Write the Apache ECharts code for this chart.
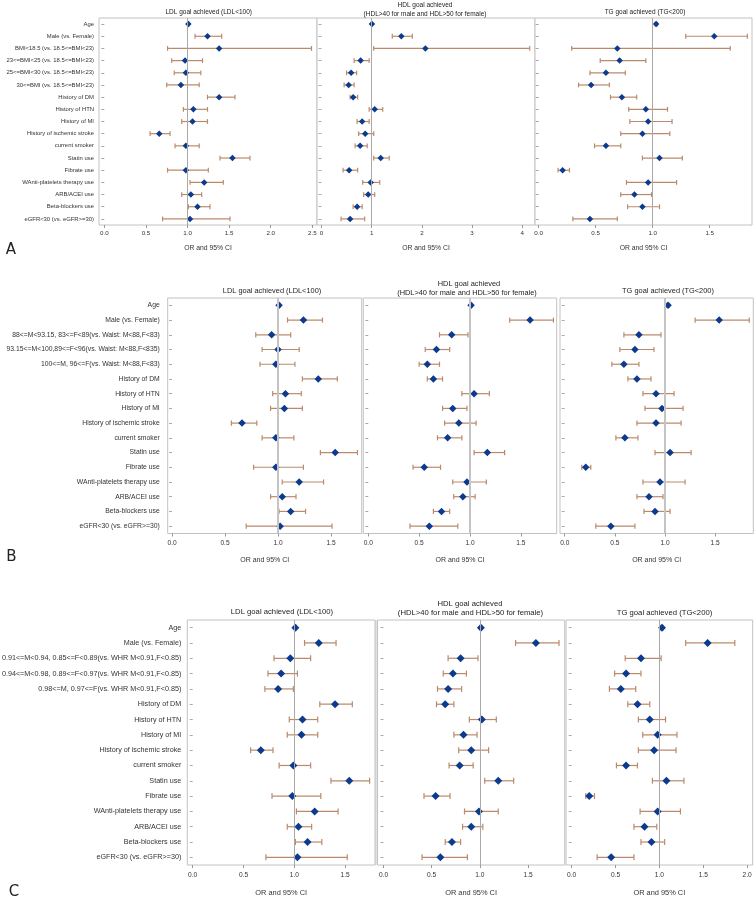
<!DOCTYPE html>
<html><head><meta charset="utf-8">
<script src="https://cdn.jsdelivr.net/npm/echarts@6/dist/echarts.min.js"></script>
<style>html,body{margin:0;padding:0;background:#fff}#c{width:756px;height:899px}</style>
</head><body><div id="c"></div><script>
// ---------- categories ----------
const catsA = ["Age","Male (vs. Female)","BMI<18.5 (vs. 18.5<=BMI<23)","23<=BMI<25 (vs. 18.5<=BMI<23)","25<=BMI<30 (vs. 18.5<=BMI<23)","30<=BMI (vs. 18.5<=BMI<23)","History of DM","History of HTN","History of MI","History of ischemic stroke","current smoker","Statin use","Fibrate use","WAnti-platelets therapy use","ARB/ACEI use","Beta-blockers use","eGFR<30 (vs. eGFR>=30)"];
const catsB = ["Age","Male (vs. Female)","88<=M<93.15, 83<=F<89(vs. Waist: M<88,F<83)","93.15<=M<100,89<=F<96(vs. Waist: M<88,F<835)","100<=M, 96<=F(vs. Waist: M<88,F<83)","History of DM","History of HTN","History of MI","History of ischemic stroke","current smoker","Statin use","Fibrate use","WAnti-platelets therapy use","ARB/ACEI use","Beta-blockers use","eGFR<30 (vs. eGFR>=30)"];
const catsC = ["Age","Male (vs. Female)","0.91<=M<0.94, 0.85<=F<0.89(vs. WHR M<0.91,F<0.85)","0.94<=M<0.98, 0.89<=F<0.97(vs. WHR M<0.91,F<0.85)","0.98<=M, 0.97<=F(vs. WHR M<0.91,F<0.85)","History of DM","History of HTN","History of MI","History of ischemic stroke","current smoker","Statin use","Fibrate use","WAnti-platelets therapy use","ARB/ACEI use","Beta-blockers use","eGFR<30 (vs. eGFR>=30)"];

// ---------- Panel A ----------
const A_LDL_or = [1.01,1.24,1.38,0.97,0.98,0.92,1.38,1.07,1.06,0.66,0.98,1.54,0.98,1.20,1.04,1.12,1.03];
const A_LDL_lo = [1.00,1.09,0.76,0.81,0.84,0.75,1.24,0.95,0.93,0.55,0.85,1.39,0.76,1.03,0.93,1.01,0.70];
const A_LDL_hi = [1.02,1.41,2.49,1.18,1.16,1.14,1.57,1.24,1.24,0.79,1.14,1.75,1.25,1.43,1.17,1.27,1.51];
const A_HDL_or = [1.005,1.59,2.07,0.78,0.59,0.54,0.63,1.06,0.81,0.87,0.77,1.18,0.55,0.98,0.93,0.71,0.57];
const A_HDL_lo = [0.995,1.41,1.04,0.65,0.50,0.45,0.57,0.95,0.71,0.74,0.67,1.04,0.43,0.82,0.84,0.63,0.39];
const A_HDL_hi = [1.015,1.81,4.15,0.95,0.70,0.65,0.72,1.22,0.95,1.04,0.91,1.35,0.72,1.16,1.06,0.81,0.86];
const A_TG_or  = [1.03,1.54,0.69,0.71,0.59,0.46,0.73,0.94,0.96,0.91,0.59,1.06,0.21,0.96,0.84,0.91,0.45];
const A_TG_lo  = [1.02,1.29,0.29,0.54,0.45,0.35,0.63,0.79,0.80,0.72,0.49,0.91,0.17,0.77,0.72,0.78,0.30];
const A_TG_hi  = [1.04,1.83,1.68,0.94,0.76,0.62,0.86,1.13,1.17,1.15,0.72,1.26,0.27,1.21,0.99,1.06,0.69];

// ---------- Panel B ----------
const B_LDL_or = [1.01,1.24,0.94,1.00,0.98,1.38,1.07,1.06,0.66,0.98,1.54,0.98,1.20,1.04,1.12,1.02];
const B_LDL_lo = [1.00,1.09,0.79,0.85,0.83,1.23,0.95,0.93,0.56,0.85,1.40,0.77,1.04,0.93,1.01,0.70];
const B_LDL_hi = [1.02,1.42,1.12,1.20,1.16,1.56,1.22,1.23,0.80,1.15,1.75,1.24,1.43,1.17,1.26,1.51];
const B_HDL_or = [1.01,1.59,0.82,0.67,0.58,0.64,1.04,0.83,0.89,0.78,1.17,0.55,0.97,0.93,0.72,0.60];
const B_HDL_lo = [1.00,1.39,0.70,0.56,0.50,0.58,0.92,0.73,0.75,0.68,1.04,0.44,0.83,0.84,0.64,0.41];
const B_HDL_hi = [1.02,1.82,0.98,0.80,0.70,0.73,1.19,0.97,1.06,0.92,1.34,0.71,1.16,1.05,0.80,0.88];
const B_TG_or  = [1.03,1.54,0.74,0.70,0.59,0.72,0.91,0.97,0.91,0.60,1.05,0.21,0.95,0.84,0.90,0.46];
const B_TG_lo  = [1.02,1.30,0.59,0.55,0.47,0.63,0.78,0.80,0.72,0.51,0.90,0.17,0.78,0.72,0.79,0.31];
const B_TG_hi  = [1.04,1.84,0.96,0.89,0.74,0.86,1.09,1.18,1.16,0.73,1.26,0.26,1.20,0.98,1.05,0.70];

// ---------- Panel C ----------
const C_LDL_or = [1.01,1.24,0.96,0.87,0.84,1.40,1.08,1.07,0.67,0.99,1.54,0.98,1.20,1.04,1.13,1.03];
const C_LDL_lo = [1.00,1.10,0.80,0.74,0.71,1.25,0.95,0.93,0.57,0.85,1.36,0.78,1.02,0.93,1.01,0.72];
const C_LDL_hi = [1.02,1.41,1.16,1.03,0.99,1.57,1.23,1.23,0.79,1.16,1.74,1.26,1.43,1.17,1.27,1.52];
const C_HDL_or = [1.01,1.58,0.80,0.72,0.67,0.64,1.02,0.83,0.91,0.79,1.19,0.54,0.99,0.91,0.71,0.59];
const C_HDL_lo = [1.00,1.37,0.67,0.62,0.56,0.55,0.89,0.73,0.78,0.68,1.05,0.42,0.84,0.82,0.64,0.40];
const C_HDL_hi = [1.02,1.82,0.98,0.86,0.81,0.73,1.17,0.97,1.09,0.93,1.35,0.69,1.19,1.03,0.80,0.87];
const C_TG_or  = [1.03,1.55,0.79,0.62,0.56,0.75,0.89,0.98,0.94,0.62,1.08,0.20,0.98,0.83,0.91,0.45];
const C_TG_lo  = [1.02,1.30,0.61,0.49,0.43,0.64,0.76,0.81,0.76,0.51,0.92,0.16,0.78,0.71,0.79,0.29];
const C_TG_hi  = [1.04,1.86,1.02,0.79,0.73,0.89,1.07,1.20,1.19,0.75,1.28,0.26,1.24,0.97,1.06,0.71];

// ---------- tick labels ----------
const ticksA_LDL = [0,0.5,1,1.5,2,2.5];
const ticksA_HDL = [0,1,2,3,4];
const ticksA_TG  = [0,0.5,1,1.5];
const ticksB     = [0,0.5,1,1.5];
const ticksC     = [0,0.5,1,1.5];
const ticksC_TG  = [0,0.5,1,1.5,2];

const titleLDL = "LDL goal achieved (LDL<100)";
const titleHDL1 = "HDL goal achieved";
const titleHDL2 = "(HDL>40 for male and HDL>50 for female)";
const titleTG = "TG goal achieved (TG<200)";
const axisName = "OR and 95% CI";

// ---------- layout (positions only) ----------
const panels = [
  { cats: catsA, series: [[A_LDL_or,A_LDL_lo,A_LDL_hi],[A_HDL_or,A_HDL_lo,A_HDL_hi],[A_TG_or,A_TG_lo,A_TG_hi]],
    ticks: [ticksA_LDL,ticksA_HDL,ticksA_TG], fmt: [1,0,1],
    top: 18, height: 207, grids: [[99,218],[317,218],[535,217]],
    ranges: [[-0.064,2.556],[-0.09,4.255],[-0.032,1.871]],
    labelFont: 5.9, tickFont: 6.2, nameFont: 6.8, labelMargin: 5, tickMargin: 5, nameGap: 19.5,
    sym: 6.5, cap: 2.4, refW: 1, refC: '#a9a9a9',
    titles: [[208.7,12,titleLDL],[425,5,titleHDL1],[425,14.5,titleHDL2],[645,12.5,titleTG]], titleFont: 6.5,
    letter: ['A',11,250] },
  { cats: catsB, series: [[B_LDL_or,B_LDL_lo,B_LDL_hi],[B_HDL_or,B_HDL_lo,B_HDL_hi],[B_TG_or,B_TG_lo,B_TG_hi]],
    ticks: [ticksB,ticksB,ticksB], fmt: [1,1,1],
    top: 298, height: 235.5, grids: [[167.7,194],[363.3,193.4],[560,193.3]],
    ranges: [[-0.041,1.79],[-0.049,1.852],[-0.047,1.88]],
    labelFont: 6.8, tickFont: 6.6, nameFont: 7.0, labelMargin: 8, tickMargin: 6, nameGap: 23,
    sym: 7.5, cap: 2.6, refW: 2, refC: '#c4c4c4',
    titles: [[272,291,titleLDL],[469,284.3,titleHDL1],[467,293.3,titleHDL2],[668,291,titleTG]], titleFont: 7.4,
    letter: ['B',11.5,557] },
  { cats: catsC, series: [[C_LDL_or,C_LDL_lo,C_LDL_hi],[C_HDL_or,C_HDL_lo,C_HDL_hi],[C_TG_or,C_TG_lo,C_TG_hi]],
    ticks: [ticksC,ticksC,ticksC_TG], fmt: [1,1,1],
    top: 620, height: 245, grids: [[187.3,187.7],[377.5,187.2],[566,186.7]],
    ranges: [[-0.053,1.793],[-0.062,1.879],[-0.065,2.064]],
    labelFont: 7.2, tickFont: 6.6, nameFont: 7.4, labelMargin: 6, tickMargin: 6.6, nameGap: 24.8,
    sym: 8, cap: 3, refW: 1, refC: '#a9a9a9',
    titles: [[282,611.7,titleLDL],[470,604,titleHDL1],[470.5,613.3,titleHDL2],[664.5,613.3,titleTG]], titleFont: 7.7,
    letter: ['C',14,892], band: [375, 378] }
];

const PT = '#0b3a8e', BAR = '#bb8a6c', FRAME = '#c2c2c2', TXT = '#333', FONT = 'Liberation Sans';
const grid = [], xAxis = [], yAxis = [], series = [], graphic = [];

panels.forEach(p => {
  if (p.band) graphic.push({ type: 'rect', silent: true, z: -1,
    shape: { x: p.band[0], y: p.top, width: p.band[1] - p.band[0], height: p.height },
    style: { fill: '#e2e2e2' } });
  p.grids.forEach((g, i) => {
    const gi = grid.length;
    grid.push({ left: g[0], top: p.top, width: g[1], height: p.height, show: true,
      borderColor: FRAME, borderWidth: 1, backgroundColor: '#fff', containLabel: false, outerBoundsMode: 'none' });
    const dec = p.fmt[i];
    xAxis.push({ gridIndex: gi, type: 'value', min: p.ranges[i][0], max: p.ranges[i][1],
      splitLine: { show: false }, axisLine: { show: false },
      axisTick: { show: true, customValues: p.ticks[i], length: 3, lineStyle: { color: '#999' } },
      axisLabel: { customValues: p.ticks[i], formatter: v => dec ? Number(v).toFixed(1) : String(Math.round(v)),
        fontSize: p.tickFont, fontFamily: FONT, color: TXT, margin: p.tickMargin },
      name: axisName, nameLocation: 'middle', nameGap: p.nameGap,
      nameTextStyle: { fontSize: p.nameFont, fontFamily: FONT, color: TXT } });
    yAxis.push({ gridIndex: gi, type: 'category', data: p.cats, inverse: true, boundaryGap: true,
      axisLine: { show: false },
      axisTick: { show: true, length: 3, alignWithLabel: true, lineStyle: { color: '#aaa' } },
      axisLabel: { show: i === 0, fontSize: p.labelFont, fontFamily: FONT, color: TXT, margin: p.labelMargin, interval: 0 } });
    const [or, lo, hi] = p.series[i];
    // reference line at OR = 1
    series.push({ type: 'scatter', xAxisIndex: gi, yAxisIndex: gi, data: [[1, 0]], symbolSize: 0, z: 1, silent: true,
      markLine: { silent: true, symbol: 'none', label: { show: false },
        lineStyle: { color: p.refC, width: p.refW, type: 'solid' }, data: [{ xAxis: 1 }], animation: false } });
    const cap = p.cap;
    series.push({ type: 'custom', xAxisIndex: gi, yAxisIndex: gi, z: 3, silent: true,
      data: lo.map((l, k) => [l, hi[k], k]), encode: { x: [0, 1], y: 2 },
      renderItem: (params, api) => {
        const a = api.coord([api.value(0), api.value(2)]);
        const b = api.coord([api.value(1), api.value(2)]);
        const st = { stroke: BAR, lineWidth: 1.2 };
        return { type: 'group', children: [
          { type: 'line', shape: { x1: a[0], y1: a[1], x2: b[0], y2: b[1] }, style: st },
          { type: 'line', shape: { x1: a[0], y1: a[1] - cap, x2: a[0], y2: a[1] + cap }, style: st },
          { type: 'line', shape: { x1: b[0], y1: b[1] - cap, x2: b[0], y2: b[1] + cap }, style: st } ] };
      } });
    series.push({ type: 'scatter', xAxisIndex: gi, yAxisIndex: gi, z: 4, silent: true,
      symbol: 'diamond', symbolSize: p.sym, itemStyle: { color: PT, opacity: 1 },
      data: or.map((v, k) => [v, k]) });
  });
  p.titles.forEach(t => graphic.push({ type: 'text', x: t[0], y: t[1], silent: true,
    style: { text: t[2], fontSize: p.titleFont, fontFamily: FONT, fill: '#222', align: 'center', verticalAlign: 'middle' } }));
  graphic.push({ type: 'text', x: p.letter[1], y: p.letter[2], silent: true,
    style: { text: p.letter[0], fontSize: 15, fontFamily: 'DejaVu Sans', fill: '#222', align: 'center', verticalAlign: 'middle' } });
});

const chart = echarts.init(document.getElementById('c'), null, { renderer: 'canvas' });
chart.setOption({ animation: false, backgroundColor: '#fff', grid, xAxis, yAxis, series, graphic });
</script></body></html>
